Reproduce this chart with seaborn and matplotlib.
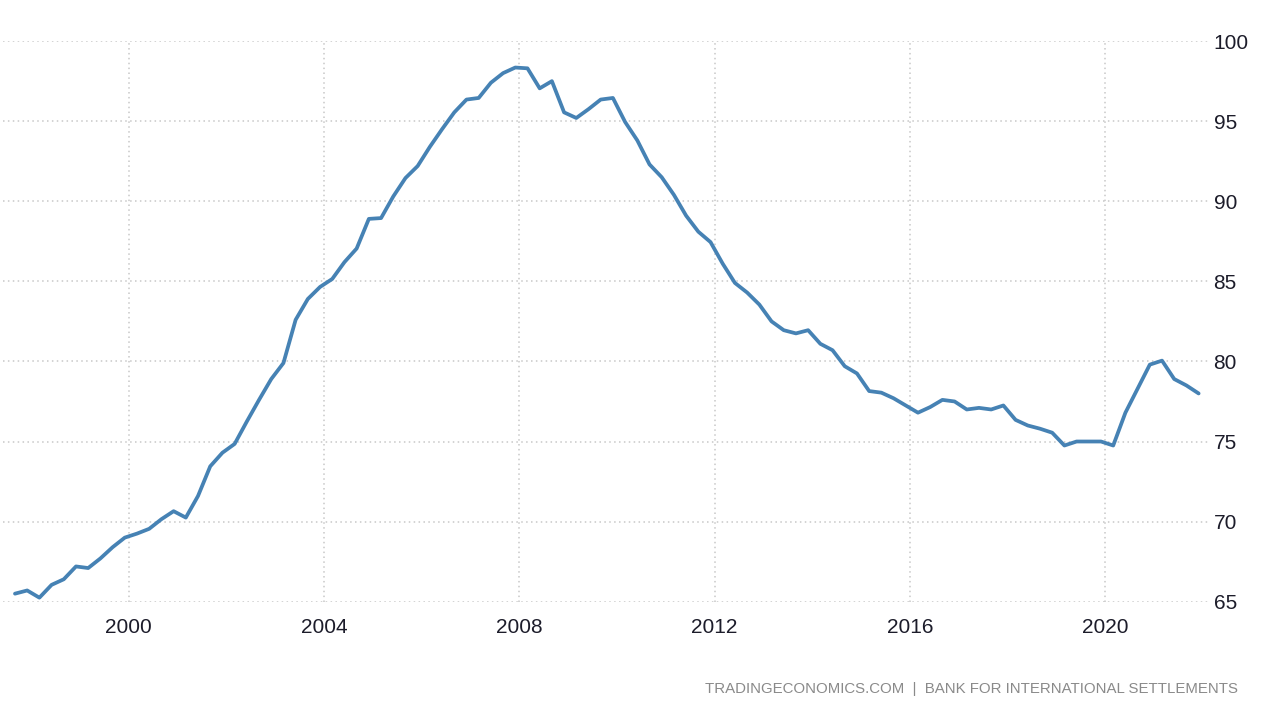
import matplotlib
matplotlib.use("Agg")
import matplotlib.pyplot as plt
import seaborn as sns
import pandas as pd
import numpy as np

# Quarterly observations, Sep 1997 .. Dec 2021
dates = pd.date_range("1997-09-01", periods=98, freq="3MS")
values = [
    65.5, 65.7, 65.25, 66.05, 66.4, 67.2, 67.1, 67.7, 68.4, 69.0,
    69.25, 69.55, 70.15, 70.65, 70.25, 71.6, 73.45, 74.3, 74.85, 76.25,
    77.6, 78.9, 79.9, 82.6, 83.9, 84.65, 85.15, 86.2, 87.05, 88.9,
    88.95, 90.3, 91.45, 92.2, 93.4, 94.5, 95.55, 96.35, 96.45, 97.4,
    98.0, 98.35, 98.3, 97.05, 97.5, 95.55, 95.2, 95.75, 96.35, 96.45,
    94.95, 93.8, 92.3, 91.5, 90.4, 89.1, 88.1, 87.45, 86.1, 84.9,
    84.3, 83.55, 82.5, 81.95, 81.75, 81.95, 81.1, 80.7, 79.7, 79.25,
    78.15, 78.05, 77.7, 77.25, 76.8, 77.15, 77.6, 77.5, 77.0, 77.1,
    77.0, 77.25, 76.35, 76.0, 75.8, 75.55, 74.75, 75.0, 75.0, 75.0,
    74.75, 76.8, 78.3, 79.8, 80.05, 78.9, 78.5, 78.0,
]
x_ticks = [2000, 2004, 2008, 2012, 2016, 2020]
y_ticks = [65, 70, 75, 80, 85, 90, 95, 100]
footer = "TRADINGECONOMICS.COM  |  BANK FOR INTERNATIONAL SETTLEMENTS"

df = pd.DataFrame({
    "year": dates.year + (dates.month - 1) / 12.0,
    "value": values,
})

sns.set_theme(style="white")
plt.rcParams["font.family"] = ["Liberation Sans", "DejaVu Sans"]

fig = plt.figure(figsize=(12.8, 7.21), dpi=100)
ax = fig.add_axes([0.0023, 0.1655, 0.9415, 0.7775])

sns.lineplot(data=df, x="year", y="value", ax=ax, color="#4682b4", linewidth=2.7)

ax.set_xlim(1997.42, 2022.11)
ax.set_ylim(65, 100)
ax.set_xticks(x_ticks)
ax.set_xticklabels([str(t) for t in x_ticks])
ax.set_yticks(y_ticks)
ax.set_yticklabels([str(t) for t in y_ticks])
ax.yaxis.tick_right()
ax.set_xlabel("")
ax.set_ylabel("")
for s in ax.spines.values():
    s.set_visible(False)
ax.grid(True, axis="both", color="#c8c8c8", linestyle=(0, (1, 2.2)), linewidth=1.1)
ax.tick_params(axis="both", length=0, labelsize=15, colors="#1c1c2a")
ax.tick_params(axis="y", pad=4)
ax.tick_params(axis="x", pad=12)

fig.text(1238 / 1280, 1 - 689 / 721, footer, ha="right", va="center",
         fontsize=10.8, color="#8a8a8a", family=["Liberation Sans", "DejaVu Sans"])

fig.savefig("out.png", dpi=100)
